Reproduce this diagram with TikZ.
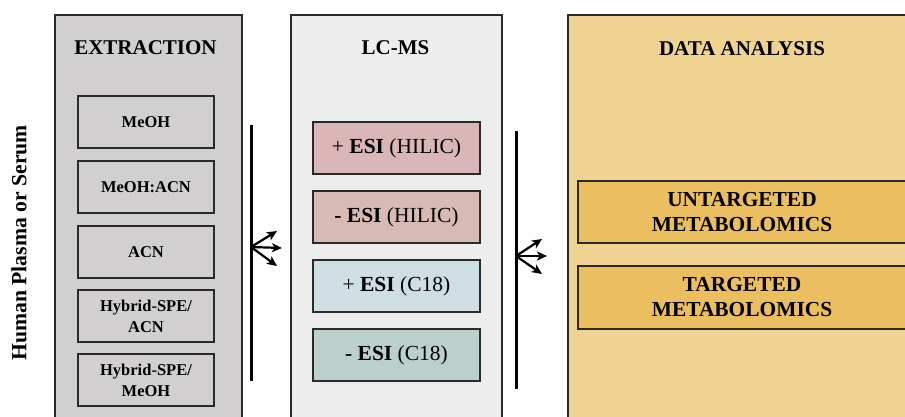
\documentclass[tikz,border=0pt]{standalone}
\usepackage{fontspec}
\setmainfont{Liberation Serif}
\usetikzlibrary{arrows.meta}
\definecolor{panelA}{HTML}{D1CFD0}
\definecolor{panelB}{HTML}{EDEDED}
\definecolor{panelC}{HTML}{F0D291}
\definecolor{boxC}{HTML}{EBBE5F}
\definecolor{hilicP}{HTML}{DAB6B8}
\definecolor{hilicN}{HTML}{D7BAB3}
\definecolor{ceP}{HTML}{CFDEE2}
\definecolor{ceN}{HTML}{BBD0CC}
\definecolor{edge}{HTML}{2A2A2A}
\tikzset{
  panel/.style={draw=edge, line width=1.3pt, inner sep=0pt},
  titletext/.style={font=\fontsize{21}{24}\selectfont\bfseries, inner sep=0pt},
  extbox/.style={draw=edge, line width=1.3pt, fill=panelA, minimum width=136pt, minimum height=52pt, inner sep=0pt, align=center, font=\fontsize{16.5}{21}\selectfont\bfseries},
  lcbox/.style={draw=edge, line width=1.3pt, minimum width=167pt, minimum height=52pt, inner sep=0pt, align=center, font=\fontsize{21.5}{25}\selectfont},
  dabox/.style={draw=edge, line width=1.3pt, fill=boxC, minimum width=342pt, inner sep=0pt},
  datext/.style={align=center, inner sep=0pt, font=\fontsize{21.4}{25}\selectfont\bfseries},
  sepline/.style={draw=black, line width=3pt},
  fanarrow/.style={draw=black, line width=2.2pt, -{Stealth[length=10pt,width=9pt,inset=2.5pt]}}
}
\begin{document}
\begin{tikzpicture}[x=1pt,y=-1pt]
\useasboundingbox (0,0) rectangle (905,417);
\clip (0,0) rectangle (905,417);
\fill[white] (0,0) rectangle (905,417);

% panels
\node[panel, fill=panelA, minimum width=187pt, minimum height=415pt] (p1) at (148.5,222.5) {};
\node[panel, fill=panelB, minimum width=211pt, minimum height=415pt] (p2) at (396.5,222.5) {};
\node[panel, fill=panelC, minimum width=352pt, minimum height=415pt] (p3) at (744,222.5) {};

\node[titletext] (t1) at (145.5,47.5) {EXTRACTION};
\node[titletext] (t2) at (395.5,47.5) {LC-MS};
\node[titletext] (t3) at (742,48.5) {DATA ANALYSIS};

% extraction boxes
\node[extbox] (e1) at (146,122) {MeOH};
\node[extbox] (e2) at (146,187) {MeOH:ACN};
\node[extbox] (e3) at (146,252) {ACN};
\node[extbox] (e4) at (146,316) {Hybrid-SPE/\\ACN};
\node[extbox] (e5) at (146,380) {Hybrid-SPE/\\MeOH};

% LC-MS boxes
\node[lcbox, fill=hilicP] (l1) at (396.5,148) {+ \textbf{ESI} (HILIC)};
\node[lcbox, fill=hilicN] (l2) at (396.5,217) {\textbf{- ESI} (HILIC)};
\node[lcbox, fill=ceP] (l3) at (396.5,286) {+ \textbf{ESI} (C18)};
\node[lcbox, fill=ceN] (l4) at (396.5,355) {\textbf{- ESI} (C18)};

% data analysis boxes
\node[dabox, minimum height=62pt] (d1) at (749,212) {};
\node[dabox, minimum height=63pt] (d2) at (749,297.5) {};
\node[datext] (d1t) at (742,212) {UNTARGETED\\METABOLOMICS};
\node[datext] (d2t) at (742,297.5) {TARGETED\\METABOLOMICS};

% side label
\node[rotate=90, inner sep=0pt, font=\fontsize{21.7}{24}\selectfont\bfseries] (side) at (19,243) {Human Plasma or Serum};

% bars and fans
\coordinate (b1top) at (251,125);
\coordinate (b1bot) at (251,381);
\coordinate (f1) at (251,247);
\coordinate (f1a) at (277,231);
\coordinate (f1b) at (282,248);
\coordinate (f1c) at (277,266);
\path[sepline] (b1top) -- (b1bot);
\path[fanarrow] (f1) -- (f1a);
\path[fanarrow] (f1) -- (f1b);
\path[fanarrow] (f1) -- (f1c);

\coordinate (b2top) at (516,131);
\coordinate (b2bot) at (516,389);
\coordinate (f2) at (516,256);
\coordinate (f2a) at (542,239);
\coordinate (f2b) at (547,256);
\coordinate (f2c) at (542,274);
\path[sepline] (b2top) -- (b2bot);
\path[fanarrow] (f2) -- (f2a);
\path[fanarrow] (f2) -- (f2b);
\path[fanarrow] (f2) -- (f2c);
\end{tikzpicture}
\end{document}
